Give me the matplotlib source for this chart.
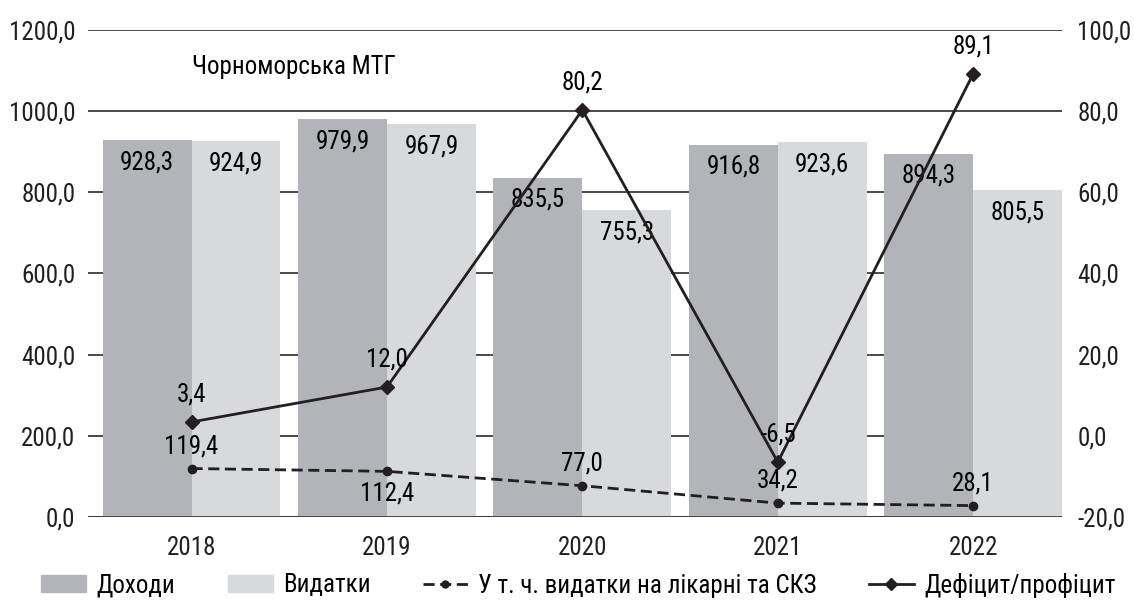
import matplotlib
matplotlib.use("Agg")
from matplotlib import pyplot as plt
from matplotlib import font_manager
from matplotlib.patches import Patch
from matplotlib.lines import Line2D
from matplotlib.ticker import FuncFormatter

# pick a narrow face if one is installed
fams = [(f.name, f.stretch) for f in font_manager.fontManager.ttflist]
chosen = "DejaVu Sans"
stretch = "normal"
for name in ["Liberation Sans Narrow", "Roboto Condensed", "Open Sans Condensed", "Noto Sans Condensed"]:
    if any(n == name for n, s in fams):
        chosen = name
        break
else:
    if any(n == "DejaVu Sans" and s in ("condensed", 75, "semi-condensed") for n, s in fams):
        stretch = "condensed"
plt.rcParams['font.family'] = [chosen, 'DejaVu Sans']
plt.rcParams['font.stretch'] = stretch

years = ["2018", "2019", "2020", "2021", "2022"]
dokhody = [928.3, 979.9, 835.5, 916.8, 894.3]
vydatky = [924.9, 967.9, 755.3, 923.6, 805.5]
likarni = [119.4, 112.4, 77.0, 34.2, 28.1]
deficit = [3.4, 12.0, 80.2, -6.5, 89.1]
likarni_above = [True, False, True, True, True]

c_dark = "#b3b4b7"
c_light = "#d8d9db"
c_line = "#231f20"
fs = 18

def comma(v, pos=None):
    return f"{v:.1f}".replace(".", ",")

fig = plt.figure(figsize=(11.34, 6), dpi=100)
ax = fig.add_axes([0.0776, 0.1383, 0.859, 0.8125])
ax2 = ax.twinx()

x = list(range(len(years)))
w = 0.455
ax.bar([i - w / 2 for i in x], dokhody, w, color=c_dark, zorder=2)
ax.bar([i + w / 2 for i in x], vydatky, w, color=c_light, zorder=2)
ax.plot(x, likarni, color=c_line, lw=2, ls=(0, (4, 2)), marker="o", ms=6, zorder=4)
ax2.plot(x, deficit, color=c_line, lw=2, marker="D", ms=7, zorder=4)

ax.set_xlim(-0.53, 4.455)
ax.set_ylim(0, 1200)
ax2.set_ylim(-20, 100)
ax.set_yticks(range(0, 1201, 200))
ax2.set_yticks(range(-20, 101, 20))
ax.yaxis.set_major_formatter(FuncFormatter(comma))
ax2.yaxis.set_major_formatter(FuncFormatter(comma))
ax.set_xticks(x)
ax.set_xticklabels(years)
ax.yaxis.grid(True, color="#3a3a3a", lw=1.3, zorder=0)
ax.set_axisbelow(True)
for a in (ax, ax2):
    for s in a.spines.values():
        s.set_visible(False)
    a.tick_params(length=0, labelsize=fs, colors="#231f20")
ax.tick_params(axis="y", pad=9)
ax2.tick_params(axis="y", pad=11)
ax.tick_params(axis="x", pad=14)
ax.axhline(0, color="#3a3a3a", lw=2, zorder=3)

for i in x:
    ax.annotate(comma(dokhody[i]), (i - w / 2, dokhody[i]), xytext=(0, -16),
                textcoords="offset points", ha="center", va="center", fontsize=fs, zorder=5)
    ax.annotate(comma(vydatky[i]), (i + w / 2, vydatky[i]), xytext=(0, -16),
                textcoords="offset points", ha="center", va="center", fontsize=fs, zorder=5)
    dy = 16 if likarni_above[i] else -16
    ax.annotate(comma(likarni[i]), (i, likarni[i]), xytext=(0, dy),
                textcoords="offset points", ha="center", va="center", fontsize=fs, zorder=5)
    ax2.annotate(comma(deficit[i]), (i, deficit[i]), xytext=(0, 20),
                 textcoords="offset points", ha="center", va="center", fontsize=fs, zorder=5)

ax.text(0, 1108, "Чорноморська МТГ", ha="left", va="center", fontsize=fs)

handles = [
    Patch(color=c_dark),
    Patch(color=c_light),
    Line2D([], [], color=c_line, lw=2, ls=(0, (4, 2)), marker="o", ms=5),
    Line2D([], [], color=c_line, lw=2, marker="D", ms=6),
]
labels = ["Доходи", "Видатки", "У т. ч. видатки на лікарні та СКЗ", "Дефіцит/профіцит"]
fig.legend(handles, labels, loc="center", bbox_to_anchor=(0.51, 0.025), ncol=4,
           frameon=False, fontsize=fs, handlelength=1.8, handleheight=0.64,
           columnspacing=2.1, handletextpad=0.4)

fig.savefig("out.png", dpi=100)
